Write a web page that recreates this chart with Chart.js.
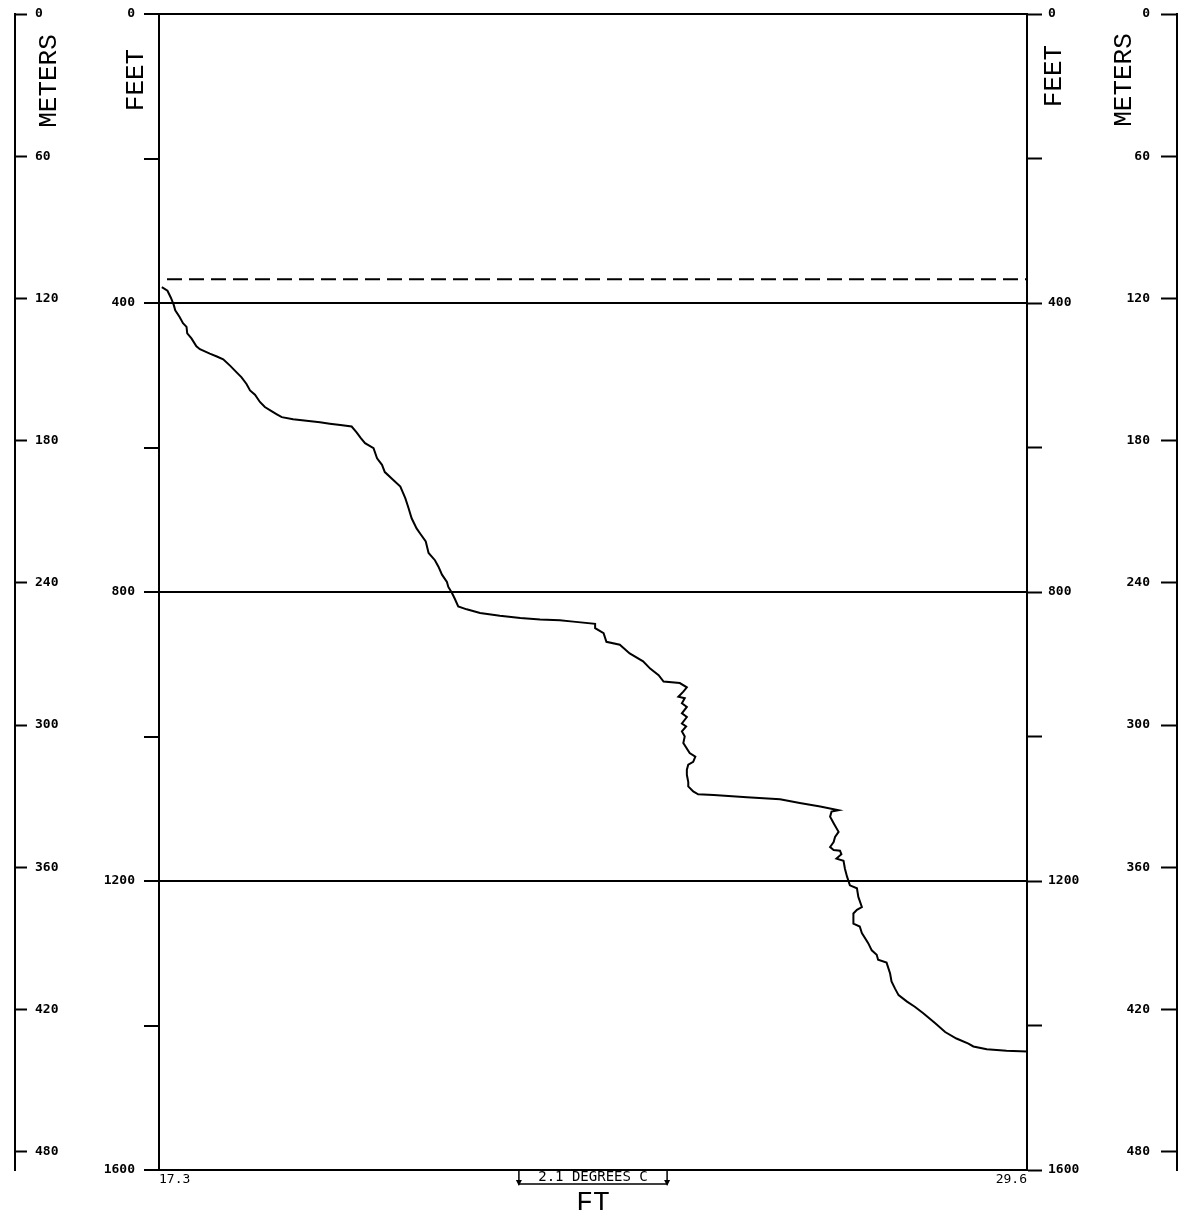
<!DOCTYPE html>
<html>
<head>
<meta charset="utf-8">
<script src="https://cdn.jsdelivr.net/npm/chart.js@4.4.1/dist/chart.umd.min.js"></script>
<style>
  html, body { margin: 0; padding: 0; background: #fff; }
  #wrap { width: 1193px; height: 1218px; }
</style>
</head>
<body>
<div id="wrap"><canvas id="profile"></canvas></div>
<script>
// temperature trace (deg C) against depth (ft)
const TEMP_C = [
  17.34, 17.42, 17.47, 17.51, 17.53, 17.59, 17.64, 17.69, 17.70, 17.76,
  17.83, 17.88, 18.02, 18.12, 18.21, 18.31, 18.40, 18.47, 18.54, 18.59,
  18.66, 18.73, 18.80, 18.90, 18.97, 19.04, 19.20, 19.39, 19.58, 19.72,
  19.87, 20.03, 20.10, 20.16, 20.22, 20.34, 20.39, 20.46, 20.50, 20.62,
  20.72, 20.79, 20.83, 20.88, 20.95, 21.00, 21.08, 21.12, 21.21, 21.26,
  21.31, 21.38, 21.40, 21.45, 21.49, 21.54, 21.66, 21.85, 22.13, 22.42,
  22.70, 22.98, 23.17, 23.48, 23.48, 23.60, 23.64, 23.83, 23.97, 24.16,
  24.26, 24.38, 24.45, 24.68, 24.78, 24.73, 24.66, 24.75, 24.71, 24.78,
  24.71, 24.78, 24.71, 24.77, 24.71, 24.75, 24.73, 24.82, 24.90, 24.87,
  24.80, 24.78, 24.78, 24.80, 24.80, 24.87, 24.94, 25.16, 25.63, 26.10,
  26.38, 26.67, 26.93, 26.83, 26.81, 26.86, 26.93, 26.88, 26.86, 26.81,
  26.86, 26.95, 26.97, 26.90, 27.00, 27.02, 27.05, 27.09, 27.19, 27.21,
  27.26, 27.19, 27.14, 27.14, 27.23, 27.26, 27.35, 27.40, 27.47, 27.49,
  27.61, 27.66, 27.68, 27.73, 27.78, 27.90, 28.01, 28.13, 28.30, 28.44,
  28.60, 28.77, 28.84, 29.03, 29.31, 29.60
];
const DEPTH_FT = [
  378, 383, 393, 403, 410, 419, 428, 433, 442, 449,
  460, 464, 470, 474, 478, 487, 496, 503, 512, 521,
  527, 537, 544, 550, 554, 558, 561, 563, 565, 567,
  569, 571, 579, 587, 594, 601, 615, 624, 634, 645,
  654, 670, 682, 698, 712, 719, 730, 746, 756, 765,
  776, 786, 793, 801, 809, 820, 824, 829, 833, 836,
  838, 839, 841, 844, 850, 857, 869, 873, 885, 896,
  906, 915, 924, 926, 932, 938, 945, 947, 954, 959,
  968, 973, 982, 986, 993, 1000, 1009, 1023, 1028, 1035,
  1039, 1046, 1053, 1063, 1069, 1076, 1080, 1081, 1084, 1087,
  1092, 1097, 1102, 1104, 1111, 1120, 1132, 1139, 1146, 1153,
  1157, 1158, 1163, 1169, 1172, 1183, 1194, 1206, 1210, 1222,
  1236, 1240, 1245, 1259, 1263, 1272, 1286, 1296, 1302, 1309,
  1313, 1328, 1339, 1349, 1358, 1367, 1374, 1383, 1397, 1409,
  1418, 1425, 1429, 1433, 1435, 1436
];

const MIXED_LAYER_FT = 367;          // dashed line
const X_MIN = 17.3;
const X_MAX = 29.6;
const X_TICKS = [17.3, 29.6];
const SCALE_BAR_C = 2.1;
const FEET_MAX = 1600;
const FEET_TICKS = [0, 200, 400, 600, 800, 1000, 1200, 1400, 1600];
const FEET_LABELED = [0, 400, 800, 1200, 1600];
const FEET_GRID = [400, 800, 1200];
const METER_TICKS = [0, 60, 120, 180, 240, 300, 360, 420, 480];

const tickFont = { family: '"DejaVu Sans Mono", monospace', size: 13, weight: 'bold' };
const titleFont = '"Liberation Mono", "DejaVu Sans Mono", monospace';

const trace = TEMP_C.map((t, i) => ({ x: t, y: DEPTH_FT[i] }));

function setTicks(list) {
  return scale => { scale.ticks = list.map(v => ({ value: v })); };
}
function feetLabel(v) {
  return FEET_LABELED.includes(v) ? String(v) : '';
}
// fixed box width, and no extra top/bottom room for the end labels
function fitWidth(w) {
  return s => { s.width = w; s.paddingTop = 0; s.paddingBottom = 0; };
}

// axis titles and the 2.1 degree scale bar
const overlay = {
  id: 'overlay',
  afterDraw(chart) {
    const { ctx, chartArea, scales } = chart;
    ctx.save();
    ctx.fillStyle = '#000';
    ctx.strokeStyle = '#000';
    ctx.textAlign = 'center';
    ctx.textBaseline = 'middle';
    ctx.font = '26px ' + titleFont;
    const vtext = (txt, x, y) => {
      ctx.save();
      ctx.translate(x, y);
      ctx.rotate(-Math.PI / 2);
      ctx.fillText(txt, 0, 0);
      ctx.restore();
    };
    vtext('METERS', scales.yMl.right + 34, chartArea.top + 67);
    vtext('FEET', scales.y.right - 23, chartArea.top + 66);
    vtext('FEET', scales.yFr.left + 27, chartArea.top + 62);
    vtext('METERS', scales.yMr.left - 53, chartArea.top + 66);

    const xs = scales.x;
    const w = xs.getPixelForValue(X_MIN + SCALE_BAR_C) - xs.getPixelForValue(X_MIN);
    const cx = (xs.left + xs.right) / 2;
    const x1 = cx - w / 2, x2 = cx + w / 2;
    const y0 = xs.top, y1 = y0 + 14;
    ctx.lineWidth = 1.5;
    ctx.beginPath();
    ctx.moveTo(x1, y0); ctx.lineTo(x1, y1); ctx.lineTo(x2, y1); ctx.lineTo(x2, y0);
    ctx.stroke();
    ctx.beginPath();
    ctx.moveTo(x1 - 3, y1 - 4); ctx.lineTo(x1 + 3, y1 - 4); ctx.lineTo(x1, y1 + 2); ctx.closePath();
    ctx.moveTo(x2 - 3, y1 - 4); ctx.lineTo(x2 + 3, y1 - 4); ctx.lineTo(x2, y1 + 2); ctx.closePath();
    ctx.fill();
    ctx.font = '14px "DejaVu Sans Mono", monospace';
    ctx.fillText(SCALE_BAR_C.toFixed(1) + ' DEGREES C', cx, y0 + 7);
    ctx.restore();
  }
};

new Chart(document.getElementById('profile'), {
  type: 'line',
  data: {
    datasets: [
      {
        data: trace,
        borderColor: '#000',
        borderWidth: 2,
        pointRadius: 0,
        tension: 0,
        fill: false
      },
      {
        data: [{ x: X_MIN, y: MIXED_LAYER_FT }, { x: X_MAX, y: MIXED_LAYER_FT }],
        borderColor: '#000',
        borderWidth: 2,
        borderDash: [15, 7],
        borderDashOffset: -8,
        pointRadius: 0,
        fill: false
      }
    ]
  },
  options: {
    responsive: true,
    maintainAspectRatio: false,
    devicePixelRatio: 1,
    animation: false,
    layout: { padding: 0 },
    plugins: { legend: { display: false }, tooltip: { enabled: false } },
    scales: {
      x: {
        type: 'linear',
        position: 'bottom',
        min: X_MIN,
        max: X_MAX,
        afterBuildTicks: setTicks(X_TICKS),
        afterFit: s => { s.height = 48; },
        grid: { display: false, drawTicks: false },
        border: { display: true, color: '#000', width: 2 },
        ticks: {
          align: 'inner',
          padding: 2,
          color: '#000',
          font: { family: '"DejaVu Sans Mono", monospace', size: 13 },
          callback: v => v.toFixed(1)
        },
        title: {
          display: true,
          text: 'FT',
          color: '#000',
          font: { family: titleFont, size: 28, lineHeight: 1 },
          padding: { top: 0, bottom: 1 }
        }
      },
      xt: {
        type: 'linear',
        position: 'top',
        min: X_MIN,
        max: X_MAX,
        afterFit: s => { s.height = 14; },
        grid: { display: false, drawTicks: false },
        border: { display: true, color: '#000', width: 2 },
        ticks: { display: false }
      },
      y: {
        type: 'linear',
        position: 'left',
        reverse: true,
        min: 0,
        max: FEET_MAX,
        weight: 0,
        afterBuildTicks: setTicks(FEET_TICKS),
        afterFit: fitWidth(144),
        border: { display: true, color: '#000', width: 2 },
        grid: {
          drawOnChartArea: true,
          tickLength: 15,
          lineWidth: 2,
          tickWidth: 2,
          tickColor: '#000',
          color: c => FEET_GRID.includes(c.tick.value) ? '#000' : 'rgba(0,0,0,0)'
        },
        ticks: { color: '#000', font: tickFont, padding: 9, callback: feetLabel }
      },
      yMl: {
        type: 'linear',
        position: 'left',
        reverse: true,
        min: 0,
        max: FEET_MAX * 0.3048,
        weight: 1,
        afterBuildTicks: setTicks(METER_TICKS),
        afterFit: fitWidth(15),
        border: { display: true, color: '#000', width: 2 },
        grid: { drawOnChartArea: false, tickLength: -12, tickWidth: 2, color: '#000' },
        ticks: { mirror: true, color: '#000', font: tickFont, padding: 20, callback: v => String(v) }
      },
      yFr: {
        type: 'linear',
        position: 'right',
        reverse: true,
        min: 0,
        max: FEET_MAX,
        weight: 0,
        afterBuildTicks: setTicks(FEET_TICKS),
        afterFit: fitWidth(150),
        border: { display: true, color: '#000', width: 2 },
        grid: { drawOnChartArea: false, tickLength: 15, tickWidth: 2, color: '#000' },
        ticks: { color: '#000', font: tickFont, padding: 6, callback: feetLabel }
      },
      yMr: {
        type: 'linear',
        position: 'right',
        reverse: true,
        min: 0,
        max: FEET_MAX * 0.3048,
        weight: 1,
        afterBuildTicks: setTicks(METER_TICKS),
        afterFit: fitWidth(16),
        border: { display: true, color: '#000', width: 2 },
        grid: { drawOnChartArea: false, tickLength: -16, tickWidth: 2, color: '#000' },
        ticks: { mirror: true, color: '#000', font: tickFont, padding: -27, callback: v => String(v) }
      }
    }
  },
  plugins: [overlay]
});
</script>
</body>
</html>
